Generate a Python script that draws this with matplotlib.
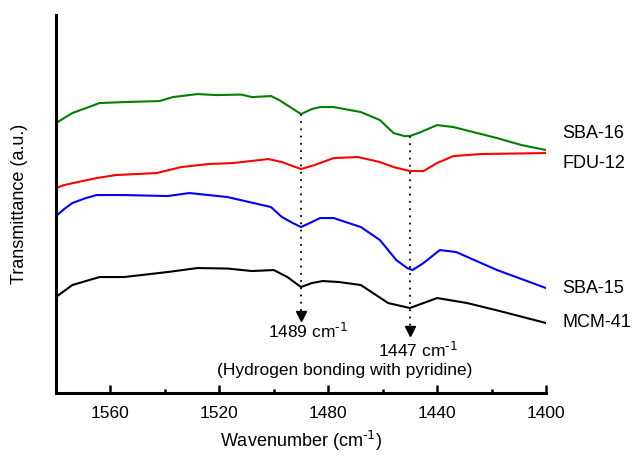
import numpy as np
import matplotlib
matplotlib.use('Agg')
import matplotlib.pyplot as plt

plt.rcParams['font.family'] = ['Liberation Sans', 'DejaVu Sans']
plt.rcParams['mathtext.default'] = 'regular'

# SBA-16 (green)
w_sba16 = [1580, 1577, 1574, 1569, 1564, 1555, 1542, 1537, 1528, 1521, 1512, 1508, 1501, 1498,
           1494, 1490, 1486, 1483, 1478, 1468, 1461, 1456, 1452, 1450, 1446, 1440, 1434, 1418,
           1409, 1400]
t_sba16 = [270, 275, 280, 285, 290, 291, 292, 296, 299, 298, 298.5, 296, 297, 293,
           286, 279, 284, 286, 286, 281, 273, 260, 257, 257, 261, 268, 266, 255,
           248, 243]

# FDU-12 (red)
w_fdu12 = [1580, 1577, 1572, 1565, 1558, 1543, 1534, 1524, 1515, 1502, 1497, 1493, 1490, 1485,
           1478, 1469, 1461, 1456, 1450, 1445, 1440, 1434, 1424, 1400]
t_fdu12 = [205, 208, 211, 215, 218, 220, 226, 229, 230, 234, 231, 227, 224, 228,
           235, 236, 231, 226, 222, 222, 230, 237, 239, 240]

# SBA-15 (blue)
w_sba15 = [1580, 1577, 1574, 1569, 1565, 1555, 1539, 1531, 1517, 1509, 1501, 1497, 1493, 1490,
           1486, 1483, 1478, 1468, 1461, 1455, 1451, 1449, 1445, 1439, 1433, 1418, 1400]
t_sba15 = [177, 184, 190, 195, 198, 198, 197, 200, 196, 191, 186, 176, 170, 166,
           171, 175, 175, 166, 153, 133, 125, 123, 130, 143, 141, 123, 105]

# MCM-41 (black)
w_mcm41 = [1580, 1577, 1574, 1569, 1564, 1555, 1539, 1528, 1517, 1508, 1500, 1495, 1490, 1486,
           1482, 1476, 1468, 1458, 1450, 1440, 1429, 1417, 1400]
t_mcm41 = [96, 102, 108, 112, 116, 116, 121, 125, 124.5, 122, 123, 116, 106, 110,
           112, 111, 108, 90, 85, 95, 90, 82, 70]

series = [
    ('SBA-16', w_sba16, t_sba16, 'green'),
    ('FDU-12', w_fdu12, t_fdu12, 'red'),
    ('SBA-15', w_sba15, t_sba15, 'blue'),
    ('MCM-41', w_mcm41, t_mcm41, 'black'),
]
label_pos = {'SBA-16': 260, 'FDU-12': 230, 'SBA-15': 105, 'MCM-41': 71}

sup = r'$^{\text{-1}}$'
# marked bands: position on the axis, top of dotted line, arrow tip, text
bands = [(1490, 279, 72, '1489 cm' + sup, 1487.5, 62),
         (1450, 257, 57, '1447 cm' + sup, 1447, 43)]

fig = plt.figure(figsize=(6.36, 4.57), dpi=100)
ax = fig.add_axes([0.088, 0.140, 0.7705, 0.827])

for name, w, t, c in series:
    ax.plot(w, t, color=c, lw=1.5)
    ax.text(1394, label_pos[name], name, fontsize=13, va='center', ha='left', clip_on=False)

for x, ytop, ytip, txt, tx, ty in bands:
    ax.plot([x, x], [ytop, ytip + 6], ls=(0, (1, 3)), color='black', lw=1.3)
    ax.plot(x, ytip + 5, marker='v', color='black', markersize=7, clip_on=False)
    ax.text(tx, ty, txt, fontsize=12.5, ha='center', va='center')

ax.text(1474, 23, '(Hydrogen bonding with pyridine)', fontsize=12.5, ha='center', va='center')

ax.set_xlim(1580, 1400)
ax.set_ylim(0, 378)
ax.set_xticks([1560, 1520, 1480, 1440, 1400])
ax.set_xticks(np.arange(1580, 1399, -20), minor=True)
ax.set_yticks([])
ax.tick_params(axis='x', which='major', direction='in', length=6, width=1.8, labelsize=12.5, pad=9)
ax.tick_params(axis='x', which='minor', direction='in', length=3, width=1.8)
ax.spines['top'].set_visible(False)
ax.spines['right'].set_visible(False)
ax.spines['left'].set_linewidth(2.2)
ax.spines['bottom'].set_linewidth(2.2)

ax.set_xlabel('Wavenumber (cm' + sup + ')', fontsize=13, labelpad=6)
ax.set_ylabel('Transmittance (a.u.)', fontsize=13, labelpad=20)

fig.savefig('out.png', dpi=100)
